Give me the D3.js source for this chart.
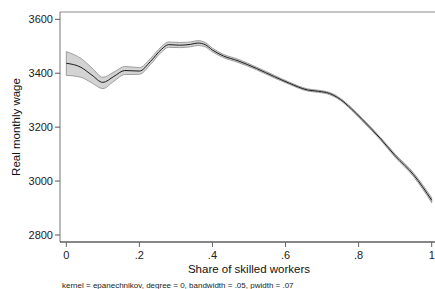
<!DOCTYPE html>
<html>
<head>
<meta charset="utf-8">
<script src="https://cdn.jsdelivr.net/npm/d3@7"></script>
<style>
  body { margin: 0; background: #fff; }
  svg { display: block; font-family: "Liberation Sans", Arial, sans-serif; }
</style>
</head>
<body>
<div id="chart"></div>
<script>
// share of skilled workers (x) and local-polynomial fit with CI band
const share = [0.00, 0.04, 0.07, 0.10, 0.13, 0.16, 0.20, 0.23, 0.26, 0.28, 0.31, 0.34, 0.36, 0.38, 0.40,
               0.43, 0.47, 0.52, 0.57, 0.61, 0.66, 0.69, 0.72, 0.75, 0.78, 0.81, 0.86, 0.90, 0.95, 1.00];
const wage  = [3437, 3422, 3393, 3366, 3388, 3410, 3408, 3443, 3488, 3506, 3504, 3507, 3512, 3506, 3486,
               3464, 3446, 3418, 3387, 3363, 3338, 3333, 3325, 3303, 3268, 3228, 3157, 3094, 3024, 2929];
const ciLow = [3392, 3385, 3364, 3343, 3370, 3395, 3396, 3432, 3478, 3496, 3495, 3498, 3503, 3498, 3479,
               3458, 3440, 3413, 3382, 3359, 3334, 3329, 3321, 3299, 3264, 3223, 3152, 3088, 3017, 2920];
const ciHigh = [3480, 3455, 3420, 3385, 3404, 3425, 3421, 3454, 3498, 3516, 3514, 3516, 3521, 3514, 3493,
               3470, 3452, 3423, 3392, 3367, 3342, 3337, 3329, 3307, 3273, 3233, 3162, 3100, 3031, 2938];

const xTicks = [0, 0.2, 0.4, 0.6, 0.8, 1];
const yTicks = [2800, 3000, 3200, 3400, 3600];
const note = "kernel = epanechnikov, degree = 0, bandwidth = .05, pwidth = .07";

const W = 435, H = 289;
const frame = { left: 60, top: 12, right: 440, bottom: 242 };

const svg = d3.select("#chart").append("svg")
    .attr("width", W)
    .attr("height", H);

const x = d3.scaleLinear().domain([0, 1]).range([66.3, 431.7]);
const y = d3.scaleLinear().domain([2800, 3600]).range([235, 19.3]);

const pts = share.map((s, i) => ({ s, m: wage[i], lo: ciLow[i], hi: ciHigh[i] }));

// confidence band
const area = d3.area()
    .x(d => x(d.s))
    .y0(d => y(d.lo))
    .y1(d => y(d.hi))
    .curve(d3.curveMonotoneX);

svg.append("path")
    .datum(pts)
    .attr("d", area)
    .attr("fill", "#d3d3d3")
    .attr("stroke", "#8a8a8a")
    .attr("stroke-width", 0.8);

// fitted line
const line = d3.line()
    .x(d => x(d.s))
    .y(d => y(d.m))
    .curve(d3.curveMonotoneX);

svg.append("path")
    .datum(pts)
    .attr("d", line)
    .attr("fill", "none")
    .attr("stroke", "#1a1a1a")
    .attr("stroke-width", 1);

// frame: top and left in grey
svg.append("line")
    .attr("x1", frame.left).attr("x2", frame.right)
    .attr("y1", frame.top).attr("y2", frame.top)
    .attr("stroke", "#8c8c8c").attr("stroke-width", 1.2);

svg.append("line")
    .attr("x1", frame.left).attr("x2", frame.left)
    .attr("y1", frame.top).attr("y2", frame.bottom)
    .attr("stroke", "#8c8c8c").attr("stroke-width", 1.2);

// bottom axis
svg.append("line")
    .attr("x1", frame.left).attr("x2", frame.right)
    .attr("y1", frame.bottom).attr("y2", frame.bottom)
    .attr("stroke", "#111").attr("stroke-width", 1.2);

// y ticks + labels
const yAxis = svg.append("g");
yAxis.selectAll("line")
    .data(yTicks)
    .enter().append("line")
    .attr("x1", frame.left - 5).attr("x2", frame.left)
    .attr("y1", d => y(d)).attr("y2", d => y(d))
    .attr("stroke", "#555").attr("stroke-width", 1);

yAxis.selectAll("text")
    .data(yTicks)
    .enter().append("text")
    .attr("x", frame.left - 7)
    .attr("y", d => y(d))
    .attr("dy", "0.35em")
    .attr("text-anchor", "end")
    .attr("font-size", 11)
    .attr("fill", "#222")
    .text(d => d);

// x ticks + labels
const fmt = d => d === 0 ? "0" : d === 1 ? "1" : d3.format(".1f")(d).replace(/^0/, "");
const xAxis = svg.append("g");
xAxis.selectAll("line")
    .data(xTicks)
    .enter().append("line")
    .attr("x1", d => x(d)).attr("x2", d => x(d))
    .attr("y1", frame.bottom).attr("y2", frame.bottom + 5)
    .attr("stroke", "#666").attr("stroke-width", 1);

xAxis.selectAll("text")
    .data(xTicks)
    .enter().append("text")
    .attr("x", d => x(d))
    .attr("y", 259)
    .attr("text-anchor", "middle")
    .attr("font-size", 11)
    .attr("fill", "#222")
    .text(fmt);

// axis titles
svg.append("text")
    .attr("x", 249)
    .attr("y", 273)
    .attr("text-anchor", "middle")
    .attr("font-size", 11.5)
    .attr("fill", "#111")
    .text("Share of skilled workers");

svg.append("text")
    .attr("transform", "translate(20," + ((frame.top + frame.bottom) / 2) + ") rotate(-90)")
    .attr("text-anchor", "middle")
    .attr("font-size", 11.5)
    .attr("fill", "#111")
    .text("Real monthly wage");

// note
svg.append("text")
    .attr("x", 62)
    .attr("y", 288)
    .attr("font-size", 8)
    .attr("fill", "#222")
    .text(note);
</script>
</body>
</html>
